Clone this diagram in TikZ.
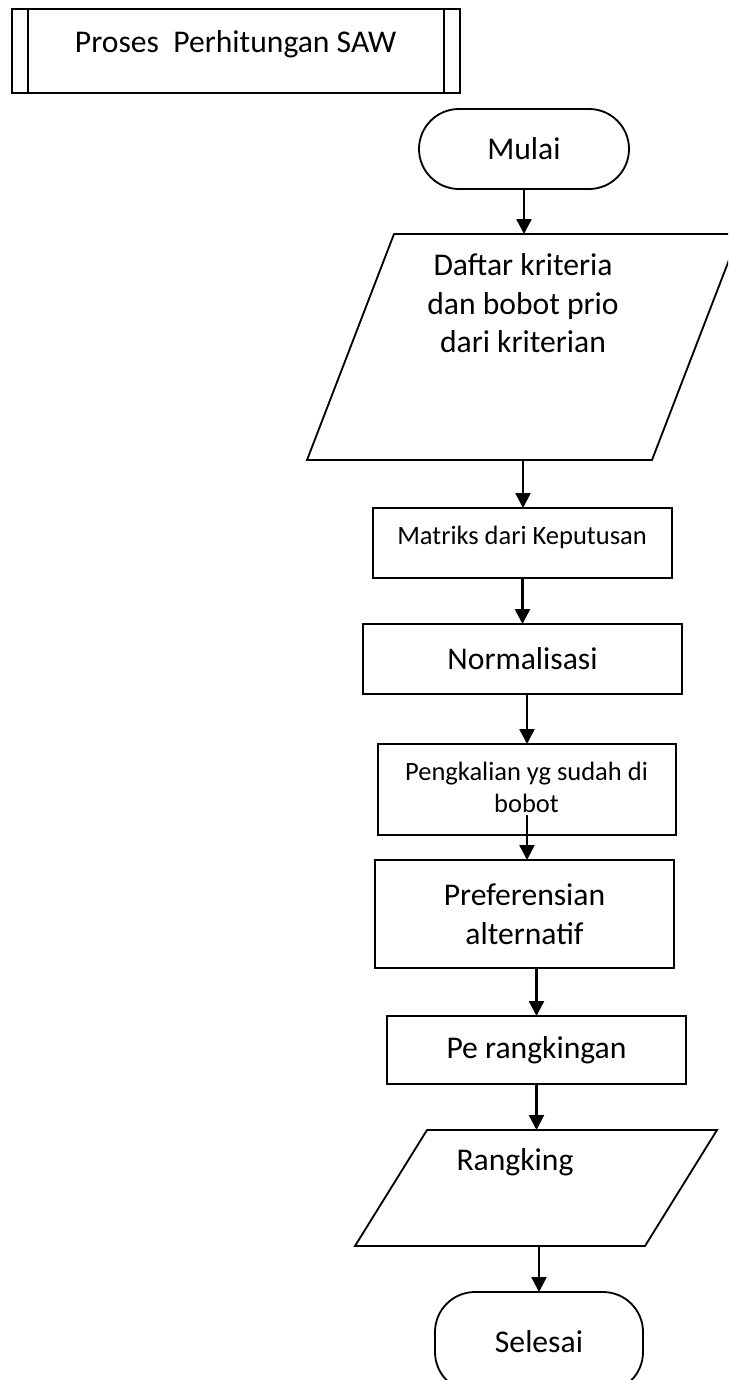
\documentclass[tikz,border=0pt]{standalone}
\usepackage{fontspec}
\setmainfont{Carlito}
\usetikzlibrary{arrows.meta}

\begin{document}
\begin{tikzpicture}[font=\fontsize{22.5}{27.6}\selectfont,
  box/.style={draw, line width=1.3pt, inner sep=0pt, outer sep=0pt},
  term/.style={box, rounded corners=1cm},
  io/.style={inner sep=0pt, outer sep=0pt},
  small/.style={font=\fontsize{18.85}{23.1}\selectfont},
  flow/.style={-{Triangle[width=0.375cm, length=0.375cm]}, line width=1.8pt}]
  \path[use as bounding box, fill=white] (0,0) rectangle (18.2,-34.5);
  \clip (0,0) rectangle (18.2,-34.5);
  % title block
  \node[box, minimum width=11.2cm, minimum height=2.1cm] (title) at (5.9,-1.275) {};
  \draw[line width=1.3pt] ([xshift=0.4cm]title.north west) -- ([xshift=0.4cm]title.south west);
  \draw[line width=1.3pt] ([xshift=-0.4cm]title.north east) -- ([xshift=-0.4cm]title.south east);
  \node[anchor=base] (titleT) at (5.89,-1.325) {Proses\ \ Perhitungan SAW};
  % flow
  \node[term, minimum width=5.25cm, minimum height=2cm] (mulai) at (13.1,-3.725) {Mulai};
  \node[io, minimum width=10.8cm, minimum height=5.65cm] (dk) at (13.075,-8.675) {};
  \draw[line width=1.3pt] ([xshift=2.175cm]dk.north west) -- (dk.north east)
    -- ([xshift=-2.175cm]dk.south east) -- (dk.south west) -- cycle;
  \node[anchor=base, align=center] (dkT) at (13.075,-8.82) {Daftar kriteria\\dan bobot prio\\dari kriterian};
  \node[box, minimum width=7.475cm, minimum height=1.75cm] (mat) at (13.0625,-13.575) {};
  \node[small, anchor=base] (matT) at (13.05,-13.61) {Matriks dari Keputusan};
  \node[box, minimum width=7.975cm, minimum height=1.75cm] (norm) at (13.0625,-16.475) {Normalisasi};
  \node[box, minimum width=7.45cm, minimum height=2.275cm] (peng) at (13.175,-19.7375) {};
  \node[small, anchor=base, align=center] (pengT) at (13.1625,-20.32) {Pengkalian yg sudah di\\bobot};
  \node[box, minimum width=7.475cm, minimum height=2.7cm, align=center] (pref) at (13.1125,-22.85) {Preferensian\\alternatif};
  \node[box, minimum width=7.475cm, minimum height=1.7cm] (prk) at (13.4125,-26.25) {Pe rangkingan};
  \node[io, minimum width=9.05cm, minimum height=2.9cm] (rk) at (13.4,-29.7) {};
  \draw[line width=1.3pt] ([xshift=1.8cm]rk.north west) -- (rk.north east)
    -- ([xshift=-1.8cm]rk.south east) -- (rk.south west) -- cycle;
  \node[anchor=base] (rkT) at (12.875,-29.27) {Rangking};
  \node[term, minimum width=5.2cm, minimum height=2.5cm] (sel) at (13.475,-33.55) {Selesai};
  % arrows
  \draw[flow] (mulai.south) -- (mulai.south |- dk.north);
  \draw[flow] (dk.south) -- (dk.south |- mat.north);
  \draw[flow] (mat.south) -- (mat.south |- norm.north);
  \draw[flow] (peng.north |- norm.south) -- (peng.north);
  \draw[flow] ([yshift=0.5cm]peng.south) -- (peng.south |- pref.north);
  \draw[flow] (prk.north |- pref.south) -- (prk.north);
  \draw[flow] (prk.south) -- (prk.south |- rk.north);
  \draw[flow] (sel.north |- rk.south) -- (sel.north);
\end{tikzpicture}
\end{document}
